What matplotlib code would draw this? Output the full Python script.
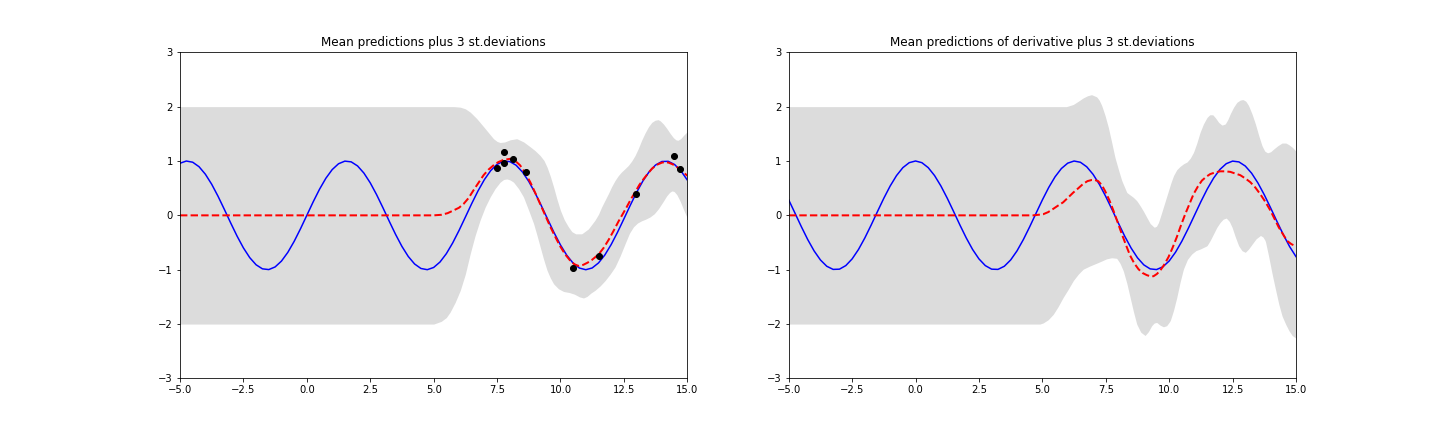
import numpy as np
import matplotlib
matplotlib.use("Agg")
import matplotlib.pyplot as plt

# ---------------- data ----------------
# true function samples (x grid from -5 to 15, step 0.25)
x_true = np.linspace(-5, 15, 81)
f_true = [0.9589, 0.9993, 0.9775, 0.8950, 0.7568, 0.5716, 0.3508, 0.1082,
          -0.1411, -0.3817, -0.5985, -0.7781, -0.9093, -0.9840, -0.9975, -0.9490,
          -0.8415, -0.6816, -0.4794, -0.2474, 0.0, 0.2474, 0.4794, 0.6816,
          0.8415, 0.9490, 0.9975, 0.9840, 0.9093, 0.7781, 0.5985, 0.3817,
          0.1411, -0.1082, -0.3508, -0.5716, -0.7568, -0.8950, -0.9775, -0.9993,
          -0.9589, -0.8589, -0.7055, -0.5083, -0.2794, -0.0332, 0.2151, 0.4500,
          0.6570, 0.8232, 0.9380, 0.9945, 0.9894, 0.9224, 0.7985, 0.6247,
          0.4121, 0.1739, -0.0751, -0.3195, -0.5440, -0.7346, -0.8796, -0.9701,
          -1.0000, -0.9680, -0.8755, -0.7288, -0.5366, -0.3111, -0.0663, 0.1826,
          0.4202, 0.6318, 0.8038, 0.9260, 0.9906, 0.9937, 0.9349, 0.8180, 0.6503]
df_true = [0.2837, 0.0376, -0.2108, -0.4461, -0.6536, -0.8206, -0.9365, -0.9941,
           -0.9900, -0.9243, -0.8011, -0.6282, -0.4161, -0.1782, 0.0707, 0.3153,
           0.5403, 0.7317, 0.8776, 0.9689, 1.0, 0.9689, 0.8776, 0.7317,
           0.5403, 0.3153, 0.0707, -0.1782, -0.4161, -0.6282, -0.8011, -0.9243,
           -0.9900, -0.9941, -0.9365, -0.8206, -0.6536, -0.4461, -0.2108, 0.0376,
           0.2837, 0.5121, 0.7087, 0.8612, 0.9602, 0.9994, 0.9766, 0.8930,
           0.7539, 0.5679, 0.3466, 0.1038, -0.1455, -0.3862, -0.6020, -0.7809,
           -0.9111, -0.9848, -0.9972, -0.9476, -0.8391, -0.6783, -0.4755, -0.2431,
           0.0044, 0.2518, 0.4833, 0.6848, 0.8439, 0.9504, 0.9978, 0.9832,
           0.9074, 0.7753, 0.5949, 0.3776, 0.1367, -0.1127, -0.3549, -0.5758, -0.7597]

# observations
x_obs = [7.48, 7.78, 7.79, 8.12, 8.65, 10.48, 11.50, 12.96, 14.46, 14.70]
y_obs = [0.87, 0.97, 1.17, 1.03, 0.79, -0.96, -0.75, 0.40, 1.09, 0.85]

# left panel: predicted mean
mu_x = [-5, 5.0, 5.3, 5.55, 5.78, 6.0, 6.18, 6.38, 6.57, 6.77, 6.97, 7.16, 7.36, 7.55,
        7.75, 8.02, 8.2, 8.41, 8.61, 8.81, 9.0, 9.2, 9.4, 9.6, 9.79, 9.99, 10.19,
        10.38, 10.55, 10.71, 10.9, 11.07, 11.24, 11.5, 11.7, 11.9, 12.1, 12.29,
        12.45, 12.62, 12.78, 12.95, 13.11, 13.28, 13.45, 13.61, 13.8, 14.0, 14.13,
        14.26, 14.42, 14.59, 14.8, 15.0]
mu_y = [0.0, 0.0, 0.01, 0.04, 0.09, 0.14, 0.21, 0.32, 0.46, 0.60, 0.74, 0.84, 0.92, 0.98,
        1.02, 1.04, 1.01, 0.92, 0.78, 0.61, 0.42, 0.21, 0.0, -0.21, -0.39, -0.57, -0.72,
        -0.83, -0.90, -0.93, -0.91, -0.87, -0.82, -0.72, -0.60, -0.45, -0.28, -0.11,
        0.02, 0.16, 0.30, 0.43, 0.56, 0.67, 0.77, 0.86, 0.93, 0.97, 0.98,
        0.97, 0.94, 0.89, 0.81, 0.73]

# left panel: upper band (mean + 3 sd)
up_x = [-5, 5.8, 6.05, 6.25, 6.44, 6.7, 6.97, 7.2, 7.36, 7.5, 7.62, 7.8, 8.02, 8.28,
        8.55, 8.81, 9.0, 9.2, 9.35, 9.47, 9.6, 9.73, 9.86, 10.0, 10.15, 10.31, 10.45,
        10.6, 10.84, 11.1, 11.36, 11.5, 11.62, 11.76, 11.89, 12.02, 12.15, 12.28,
        12.41, 12.55, 12.68, 12.81, 12.94, 13.07, 13.2, 13.33, 13.47, 13.6, 13.73,
        13.85, 13.93, 14.06, 14.19, 14.32, 14.45, 14.55, 14.63, 14.74, 14.85, 15.0]
up_y = [2.0, 2.0, 1.99, 1.96, 1.90, 1.78, 1.63, 1.50, 1.41, 1.36, 1.34, 1.35, 1.39, 1.41,
        1.35, 1.26, 1.19, 1.10, 1.01, 0.89, 0.72, 0.52, 0.30, 0.09, -0.08, -0.21, -0.30,
        -0.34, -0.34, -0.25, -0.09, 0.02, 0.15, 0.28, 0.40, 0.53, 0.64, 0.73,
        0.80, 0.86, 0.92, 1.00, 1.10, 1.23, 1.38, 1.51, 1.63, 1.71, 1.75,
        1.76, 1.74, 1.68, 1.60, 1.51, 1.43, 1.39, 1.38, 1.41, 1.47, 1.54]

# left panel: lower band (mean - 3 sd)
lo_x = [-5, 5.0, 5.3, 5.5, 5.65, 5.85, 6.05, 6.25, 6.44, 6.63, 6.83, 7.03, 7.23, 7.42,
        7.62, 7.76, 7.89, 8.02, 8.15, 8.35, 8.54, 8.74, 8.94, 9.07, 9.2, 9.33, 9.47,
        9.6, 9.73, 9.92, 10.12, 10.35, 10.55, 10.75, 10.91, 11.05, 11.2, 11.36, 11.56,
        11.76, 11.96, 12.15, 12.35, 12.55, 12.72, 12.88, 13.04, 13.2, 13.36, 13.53,
        13.7, 13.86, 14.03, 14.19, 14.3, 14.39, 14.48, 14.59, 14.72, 14.85, 15.0]
lo_y = [-2.0, -2.0, -1.95, -1.88, -1.78, -1.60, -1.38, -1.08, -0.71, -0.38, -0.09, 0.15,
        0.34, 0.49, 0.61, 0.66, 0.67, 0.65, 0.61, 0.49, 0.34, 0.10, -0.15, -0.36, -0.58,
        -0.80, -1.01, -1.15, -1.26, -1.35, -1.40, -1.42, -1.45, -1.50, -1.52, -1.49,
        -1.43, -1.38, -1.30, -1.20, -1.08, -0.95, -0.75, -0.52, -0.33, -0.21, -0.14,
        -0.10, -0.07, -0.03, 0.03, 0.12, 0.24, 0.36, 0.42, 0.45, 0.44, 0.38, 0.26, 0.11, -0.05]

# right panel: predicted derivative mean
dmu_x = [-5, 4.64, 5.03, 5.23, 5.43, 5.62, 5.82, 6.02, 6.22, 6.42, 6.61, 6.78, 6.94, 7.07,
         7.2, 7.34, 7.47, 7.64, 7.80, 7.97, 8.13, 8.30, 8.46, 8.62, 8.79, 8.95, 9.12,
         9.25, 9.38, 9.51, 9.64, 9.80, 9.97, 10.13, 10.30, 10.46, 10.63, 10.80, 10.96,
         11.13, 11.29, 11.46, 11.62, 11.82, 12.01, 12.21, 12.41, 12.60, 12.80, 13.0,
         13.20, 13.40, 13.59, 13.79, 13.99, 14.16, 14.32, 14.49, 14.65, 14.82, 15.0]
dmu_y = [0.0, 0.0, 0.02, 0.06, 0.12, 0.18, 0.24, 0.33, 0.42, 0.50, 0.58, 0.63, 0.65, 0.65,
         0.63, 0.56, 0.45, 0.28, 0.09, -0.13, -0.34, -0.55, -0.74, -0.88, -0.99, -1.06, -1.10,
         -1.12, -1.12, -1.08, -1.02, -0.91, -0.77, -0.60, -0.40, -0.19, 0.02, 0.21, 0.39,
         0.53, 0.64, 0.71, 0.76, 0.79, 0.81, 0.81, 0.80, 0.77, 0.74, 0.68,
         0.61, 0.51, 0.39, 0.25, 0.09, -0.07, -0.22, -0.35, -0.47, -0.53, -0.57]

# right panel: upper band
dup_x = [-5, 5.95, 6.22, 6.42, 6.61, 6.78, 6.94, 7.14, 7.24, 7.34, 7.47, 7.60, 7.73, 7.86,
         8.0, 8.13, 8.33, 8.59, 8.72, 8.85, 8.98, 9.12, 9.25, 9.41, 9.5, 9.58, 9.67, 9.77,
         9.87, 9.97, 10.07, 10.17, 10.30, 10.43, 10.57, 10.70, 10.83, 10.96, 11.09, 11.22,
         11.35, 11.49, 11.6, 11.72, 11.83, 11.95, 12.08, 12.21, 12.31, 12.41, 12.54, 12.67,
         12.80, 12.91, 13.02, 13.13, 13.27, 13.40, 13.53, 13.66, 13.77, 13.88, 14.0, 14.12,
         14.28, 14.45, 14.6, 14.72, 14.86, 15.0]
dup_y = [2.0, 2.0, 2.04, 2.10, 2.16, 2.20, 2.22, 2.18, 2.12, 2.02, 1.84, 1.62, 1.35, 1.07,
         0.84, 0.64, 0.42, 0.33, 0.27, 0.18, 0.08, -0.04, -0.15, -0.22, -0.20, -0.13, 0.0,
         0.15, 0.30, 0.45, 0.60, 0.73, 0.84, 0.90, 0.95, 0.98, 1.05, 1.16, 1.33, 1.53,
         1.68, 1.80, 1.85, 1.85, 1.79, 1.71, 1.66, 1.68, 1.76, 1.87, 1.99, 2.08,
         2.12, 2.13, 2.10, 2.02, 1.86, 1.68, 1.47, 1.28, 1.18, 1.15, 1.17, 1.22,
         1.28, 1.33, 1.33, 1.30, 1.25, 1.18]

# right panel: lower band
dlo_x = [-5, 4.9, 5.03, 5.23, 5.43, 5.62, 5.82, 6.02, 6.22, 6.42, 6.61, 6.88, 7.14, 7.34,
         7.53, 7.73, 7.93, 8.06, 8.19, 8.33, 8.46, 8.59, 8.72, 8.88, 9.05, 9.18, 9.31, 9.41,
         9.51, 9.64, 9.77, 9.90, 10.04, 10.17, 10.30, 10.43, 10.56, 10.72, 10.89, 11.05,
         11.22, 11.49, 11.62, 11.75, 11.88, 12.01, 12.13, 12.25, 12.37, 12.48, 12.61, 12.74,
         12.87, 13.0, 13.13, 13.27, 13.43, 13.60, 13.70, 13.79, 13.92, 14.06, 14.19, 14.32,
         14.45, 14.59, 14.72, 14.85, 15.0]
dlo_y = [-2.0, -2.0, -1.98, -1.92, -1.82, -1.68, -1.51, -1.36, -1.20, -1.08, -0.99, -0.93,
         -0.88, -0.84, -0.80, -0.78, -0.79, -0.88, -1.02, -1.25, -1.51, -1.77, -2.0, -2.15,
         -2.21, -2.14, -2.03, -1.98, -1.97, -2.02, -2.05, -2.03, -1.94, -1.75, -1.51, -1.23,
         -0.99, -0.81, -0.71, -0.65, -0.62, -0.56, -0.46, -0.34, -0.22, -0.13, -0.07, -0.05,
         -0.11, -0.22, -0.40, -0.56, -0.65, -0.68, -0.62, -0.53, -0.43, -0.37, -0.40, -0.47,
         -0.75, -1.08, -1.36, -1.63, -1.85, -2.0, -2.12, -2.21, -2.26]

titles = ["Mean predictions plus 3 st.deviations",
          "Mean predictions of derivative plus 3 st.deviations"]

band_color = "#dcdcdc"

# ---------------- figure ----------------
fig, (ax1, ax2) = plt.subplots(1, 2, figsize=(20, 6), dpi=72)
fig.subplots_adjust(left=0.125, right=0.9, bottom=0.124, top=0.879, wspace=0.2)

# left panel
xf = np.linspace(-5, 15, 801)
ax1.fill_between(xf, np.interp(xf, lo_x, lo_y), np.interp(xf, up_x, up_y),
                 color=band_color, linewidth=0)
ax1.plot(x_true, f_true, "b-", linewidth=1.5)
ax1.plot(mu_x, mu_y, "r--", linewidth=2)
ax1.plot(x_obs, y_obs, "ko", markersize=6)
ax1.set_xlim(-5, 15)
ax1.set_ylim(-3, 3)
ax1.set_title(titles[0])

# right panel
ax2.fill_between(xf, np.interp(xf, dlo_x, dlo_y), np.interp(xf, dup_x, dup_y),
                 color=band_color, linewidth=0)
ax2.plot(x_true, df_true, "b-", linewidth=1.5)
ax2.plot(dmu_x, dmu_y, "r--", linewidth=2)
ax2.set_xlim(-5, 15)
ax2.set_ylim(-3, 3)
ax2.set_title(titles[1])

fig.savefig("out.png", dpi=72)
